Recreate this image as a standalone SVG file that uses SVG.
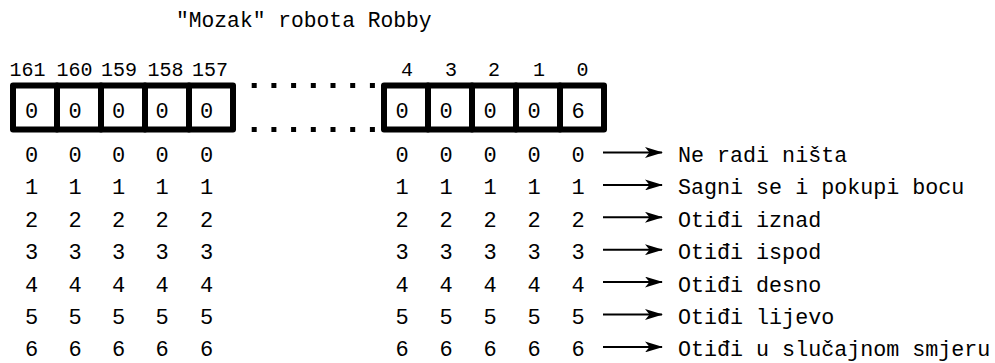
<svg xmlns="http://www.w3.org/2000/svg" width="995" height="363" viewBox="0 0 995 363">
<style>
text{font-family:"Liberation Mono","DejaVu Sans Mono",monospace;fill:#000}
.t{font-size:21.3px}
.h{font-size:20px;text-anchor:middle}
.d{font-size:22px;text-anchor:middle}
.l{font-size:21.7px}
.cell{fill:#fff;stroke:#000;stroke-width:6;stroke-linejoin:round}
.conn line{stroke:#000;stroke-width:2}
</style>
<defs>
<marker id="ah" viewBox="0 0 18 11" refX="17" refY="5.5" markerWidth="18" markerHeight="11" markerUnits="userSpaceOnUse" orient="auto">
<path d="M0,0 L18,5.5 L0,11 L4.5,5.5 Z" fill="#000"/>
</marker>
</defs>
<text class="t" x="176" y="27">"Mozak" robota Robby</text>
<g id="labels-top">
<text class="h" x="27.5" y="76">161</text>
<text class="h" x="74.5" y="76">160</text>
<text class="h" x="119" y="76">159</text>
<text class="h" x="165.5" y="76">158</text>
<text class="h" x="210" y="76">157</text>
<text class="h" x="407" y="76">4</text>
<text class="h" x="451" y="76">3</text>
<text class="h" x="494" y="76">2</text>
<text class="h" x="539" y="76">1</text>
<text class="h" x="582.5" y="76">0</text>
</g>
<g id="register-left">
<rect class="cell" x="13" y="85.5" width="44" height="44"/>
<rect class="cell" x="57" y="85.5" width="44" height="44"/>
<rect class="cell" x="101" y="85.5" width="44" height="44"/>
<rect class="cell" x="145" y="85.5" width="44" height="44"/>
<rect class="cell" x="189" y="85.5" width="44" height="44"/>
<text class="d" x="31.5" y="118">0</text>
<text class="d" x="75" y="118">0</text>
<text class="d" x="118.5" y="118">0</text>
<text class="d" x="162" y="118">0</text>
<text class="d" x="206.5" y="118">0</text>
</g>
<g id="gap">
<line x1="251.7" y1="85.5" x2="380" y2="85.5" stroke="#000" stroke-width="5" stroke-dasharray="5 14.7"/>
<line x1="251.7" y1="129.5" x2="380" y2="129.5" stroke="#000" stroke-width="5" stroke-dasharray="5 14.7"/>
</g>
<g id="register-right">
<rect class="cell" x="384" y="85.5" width="44" height="44"/>
<rect class="cell" x="428" y="85.5" width="44" height="44"/>
<rect class="cell" x="472" y="85.5" width="44" height="44"/>
<rect class="cell" x="516" y="85.5" width="44" height="44"/>
<rect class="cell" x="560" y="85.5" width="44" height="44"/>
<text class="d" x="402" y="118">0</text>
<text class="d" x="446" y="118">0</text>
<text class="d" x="490" y="118">0</text>
<text class="d" x="534" y="118">0</text>
<text class="d" x="578" y="118">6</text>
</g>
<g id="values-left" class="d">
<text x="31.5" y="162">0</text><text x="75" y="162">0</text><text x="118.5" y="162">0</text><text x="162" y="162">0</text><text x="206.5" y="162">0</text>
<text x="31.5" y="194.4">1</text><text x="75" y="194.4">1</text><text x="118.5" y="194.4">1</text><text x="162" y="194.4">1</text><text x="206.5" y="194.4">1</text>
<text x="31.5" y="226.8">2</text><text x="75" y="226.8">2</text><text x="118.5" y="226.8">2</text><text x="162" y="226.8">2</text><text x="206.5" y="226.8">2</text>
<text x="31.5" y="259.2">3</text><text x="75" y="259.2">3</text><text x="118.5" y="259.2">3</text><text x="162" y="259.2">3</text><text x="206.5" y="259.2">3</text>
<text x="31.5" y="291.6">4</text><text x="75" y="291.6">4</text><text x="118.5" y="291.6">4</text><text x="162" y="291.6">4</text><text x="206.5" y="291.6">4</text>
<text x="31.5" y="324">5</text><text x="75" y="324">5</text><text x="118.5" y="324">5</text><text x="162" y="324">5</text><text x="206.5" y="324">5</text>
<text x="31.5" y="356.4">6</text><text x="75" y="356.4">6</text><text x="118.5" y="356.4">6</text><text x="162" y="356.4">6</text><text x="206.5" y="356.4">6</text>
</g>
<g id="values-right" class="d">
<text x="402" y="162">0</text><text x="446" y="162">0</text><text x="490" y="162">0</text><text x="534" y="162">0</text><text x="578" y="162">0</text>
<text x="402" y="194.4">1</text><text x="446" y="194.4">1</text><text x="490" y="194.4">1</text><text x="534" y="194.4">1</text><text x="578" y="194.4">1</text>
<text x="402" y="226.8">2</text><text x="446" y="226.8">2</text><text x="490" y="226.8">2</text><text x="534" y="226.8">2</text><text x="578" y="226.8">2</text>
<text x="402" y="259.2">3</text><text x="446" y="259.2">3</text><text x="490" y="259.2">3</text><text x="534" y="259.2">3</text><text x="578" y="259.2">3</text>
<text x="402" y="291.6">4</text><text x="446" y="291.6">4</text><text x="490" y="291.6">4</text><text x="534" y="291.6">4</text><text x="578" y="291.6">4</text>
<text x="402" y="324">5</text><text x="446" y="324">5</text><text x="490" y="324">5</text><text x="534" y="324">5</text><text x="578" y="324">5</text>
<text x="402" y="356.4">6</text><text x="446" y="356.4">6</text><text x="490" y="356.4">6</text><text x="534" y="356.4">6</text><text x="578" y="356.4">6</text>
</g>
<g id="connectors" class="conn">
<line x1="603" y1="152.5" x2="662" y2="152.5" marker-end="url(#ah)"/>
<line x1="603" y1="184.9" x2="662" y2="184.9" marker-end="url(#ah)"/>
<line x1="603" y1="217.3" x2="662" y2="217.3" marker-end="url(#ah)"/>
<line x1="603" y1="249.7" x2="662" y2="249.7" marker-end="url(#ah)"/>
<line x1="603" y1="282.1" x2="662" y2="282.1" marker-end="url(#ah)"/>
<line x1="603" y1="314.5" x2="662" y2="314.5" marker-end="url(#ah)"/>
<line x1="603" y1="346.9" x2="662" y2="346.9" marker-end="url(#ah)"/>
</g>
<g id="actions" class="l">
<text x="678" y="162">Ne radi ništa</text>
<text x="678" y="194.4">Sagni se i pokupi bocu</text>
<text x="678" y="226.8">Otiđi iznad</text>
<text x="678" y="259.2">Otiđi ispod</text>
<text x="678" y="291.6">Otiđi desno</text>
<text x="678" y="324">Otiđi lijevo</text>
<text x="678" y="356.4">Otiđi u slučajnom smjeru</text>
</g>
</svg>
